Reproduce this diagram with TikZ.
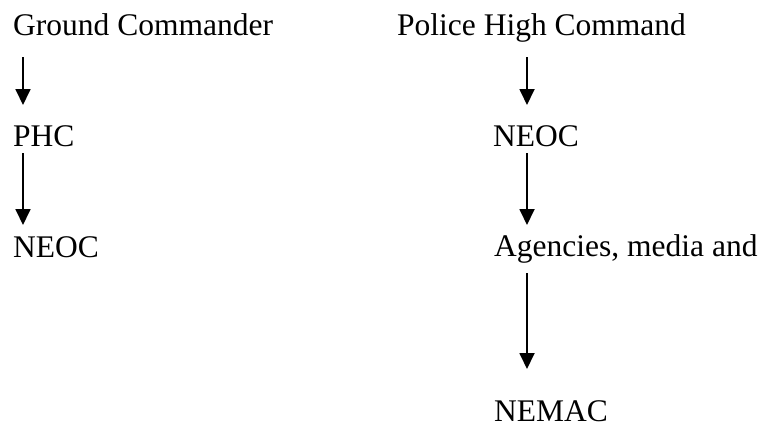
\documentclass[tikz,border=0pt]{standalone}
\usepackage{fontspec}
\setmainfont{Liberation Serif}
\usetikzlibrary{arrows.meta,calc}
\begin{document}
\begin{tikzpicture}[x=1pt,y=-1pt,
  lbl/.style={inner sep=0pt,anchor=base west,font=\fontsize{31.5}{36}\selectfont},
  arr/.style={line width=1.8pt,-{Triangle[width=15pt,length=16pt]}}]
\useasboundingbox[fill=white] (0,0) rectangle (762,426);
\node[lbl] (gc) at (13,35) {Ground Commander};
\node[lbl] (phcL) at (13,146) {PHC};
\node[lbl] (neocL) at (13,257) {NEOC};
\node[lbl] (phc) at (397,35) {Police High Command};
\node[lbl] (neocR) at (493,146) {NEOC};
\node[lbl] (agen) at (494,256) {Agencies, media and};
\node[lbl] (nemac) at (494,421) {NEMAC};
\draw[arr] ($(gc.base west)+(10,22)$) -- ($(phcL.base west)+(10,-41)$);
\draw[arr] ($(phcL.base west)+(10,7)$) -- ($(neocL.base west)+(10,-32)$);
\draw[arr] ($(phc.base west)+(130,22)$) -- ($(neocR.base west)+(34,-41)$);
\draw[arr] ($(neocR.base west)+(34,7)$) -- ($(agen.base west)+(33,-31)$);
\draw[arr] ($(agen.base west)+(33,17)$) -- ($(nemac.base west)+(33,-52)$);
\end{tikzpicture}
\end{document}
